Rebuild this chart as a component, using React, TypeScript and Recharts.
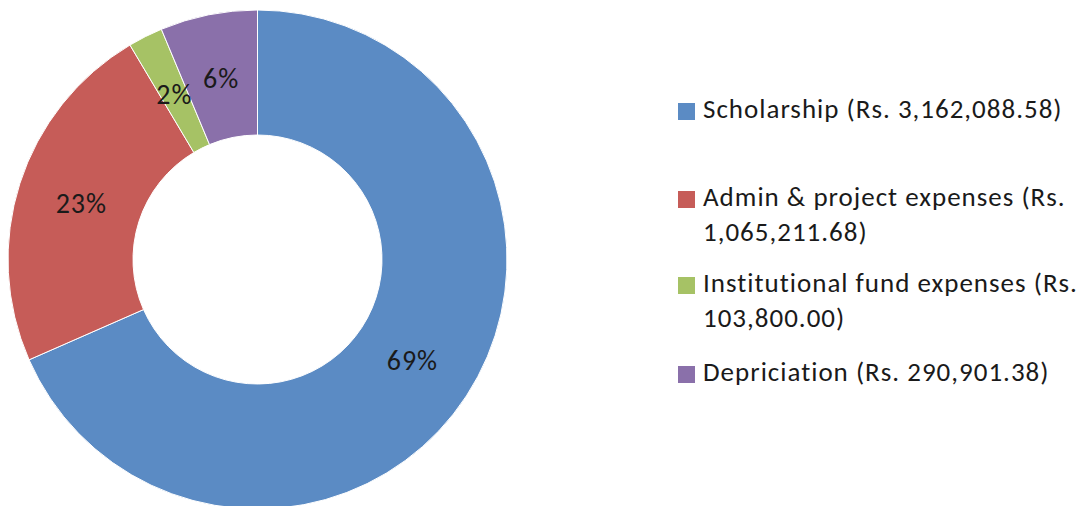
import React from "react";
import { PieChart, Pie, Cell } from "recharts";

const categories = [
  "Scholarship (Rs. 3,162,088.58)",
  "Admin & project expenses (Rs. 1,065,211.68)",
  "Institutional fund expenses (Rs. 103,800.00)",
  "Depriciation (Rs. 290,901.38)",
];
const amounts = [3162088.58, 1065211.68, 103800.0, 290901.38];
const percentLabels = ["69%", "23%", "2%", "6%"];
const colors = ["#5B8BC4", "#C65C58", "#A6C265", "#8A70AA"];

const data = categories.map((name, i) => ({
  name,
  value: amounts[i],
  label: percentLabels[i],
}));

const FONT = "Carlito, Lato, 'Open Sans', sans-serif";
const RAD = Math.PI / 180;

const renderLabel = (props: any) => {
  const { cx, cy, midAngle, innerRadius, outerRadius, index } = props;
  const r = (innerRadius + outerRadius) / 2 - 2;
  const x = cx + r * Math.cos(-midAngle * RAD);
  const y = cy + r * Math.sin(-midAngle * RAD);
  return (
    <text
      x={x}
      y={y}
      textAnchor="middle"
      dominantBaseline="central"
      fill="#1a1a1a"
      style={{ fontFamily: FONT, fontSize: 28, letterSpacing: 1 }}
    >
      {data[index].label}
    </text>
  );
};

const gaps = [0, 53, 16, 19];

const LegendBlock = () => (
  <div
    style={{
      position: "absolute",
      left: 678,
      top: 91,
      width: 410,
      fontFamily: FONT,
      fontSize: 27,
      letterSpacing: 1,
      color: "#1a1a1a",
    }}
  >
    {data.map((d, i) => (
      <div
        key={d.name}
        style={{
          display: "flex",
          alignItems: "flex-start",
          marginTop: gaps[i],
          lineHeight: "35px",
        }}
      >
        <span
          style={{
            display: "inline-block",
            width: 17,
            height: 17,
            background: colors[i],
            marginTop: 12,
            marginRight: 8,
            flex: "0 0 auto",
          }}
        />
        <span style={{ whiteSpace: "normal", width: 385 }}>{d.name}</span>
      </div>
    ))}
  </div>
);

export default function App() {
  return (
    <div style={{ position: "absolute", left: 0, top: 0, width: 1088, height: 506, background: "#fff", overflow: "hidden" }}>
      <PieChart width={1088} height={506} margin={{ top: 0, right: 0, bottom: 0, left: 0 }}>
        <Pie
          data={data}
          dataKey="value"
          nameKey="name"
          cx={257.5}
          cy={259.5}
          innerRadius={124.5}
          outerRadius={249.5}
          startAngle={90}
          endAngle={-270}
          stroke="#ffffff"
          strokeWidth={1}
          label={renderLabel}
          labelLine={false}
          isAnimationActive={false}
        >
          {data.map((d, i) => (
            <Cell key={d.name} fill={colors[i]} />
          ))}
        </Pie>
      </PieChart>
      <LegendBlock />
    </div>
  );
}
